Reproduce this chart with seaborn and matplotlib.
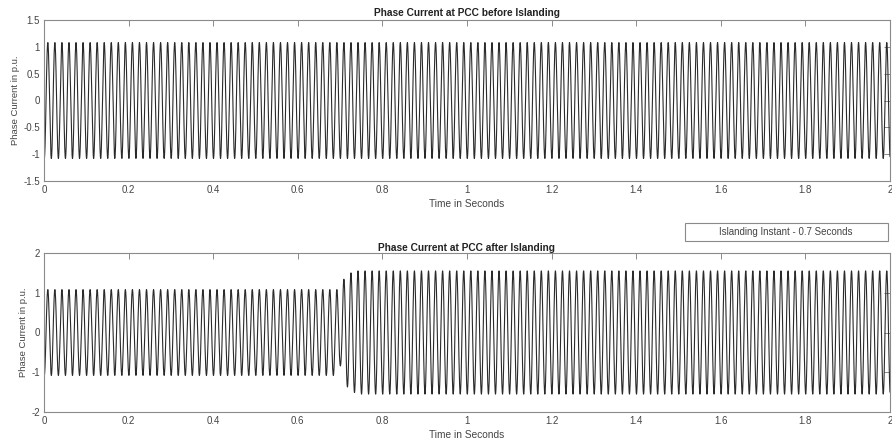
import numpy as np
import pandas as pd
import matplotlib
matplotlib.use("Agg")
import matplotlib.pyplot as plt
import matplotlib.patches as patches
import seaborn as sns

sns.set_style("white")
plt.rcParams['font.family'] = ['Liberation Sans', 'DejaVu Sans']

# signal values
freq_hz = 60.0
first_peak_s = 0.009
t_end = 2.0
amp_before = 1.08
amp_after = 1.55
islanding_s = 0.7
# magnitudes of the half-cycles right after islanding (peak, trough, peak, ...)
transition_peaks = [0.84, 1.34, 1.37, 1.50, 1.51]

x_ticks = [0, 0.2, 0.4, 0.6, 0.8, 1, 1.2, 1.4, 1.6, 1.8, 2]
x_labels = ["0", "0.2", "0.4", "0.6", "0.8", "1", "1.2", "1.4", "1.6", "1.8", "2"]
top_yticks = [-1.5, -1, -0.5, 0, 0.5, 1, 1.5]
top_ylabels = ["-1.5", "-1", "-0.5", "0", "0.5", "1", "1.5"]
bot_yticks = [-2, -1, 0, 1, 2]
bot_ylabels = ["-2", "-1", "0", "1", "2"]

t = np.linspace(0, t_end, 40001)
phase = 2 * np.pi * freq_hz * (t - first_peak_s) + np.pi / 2
carrier = np.sin(phase)

# half-cycle index (changes at zero crossings)
half = np.floor((t - first_peak_s + 1 / (4 * freq_hz)) * 2 * freq_hz).astype(int)
k0 = int(np.ceil((islanding_s - first_peak_s) * 2 * freq_hz))
mag = np.where(half < k0, amp_before, amp_after)
for i, v in enumerate(transition_peaks):
    mag = np.where(half == k0 + i, v, mag)

df_before = pd.DataFrame({"t": t, "i": amp_before * carrier})
df_after = pd.DataFrame({"t": t, "i": mag * carrier})

W, H = 892, 446
fig = plt.figure(figsize=(W / 100, H / 100), dpi=100)
ax1 = fig.add_axes([44 / W, 1 - 181 / H, 846 / W, 161 / H])
ax2 = fig.add_axes([44 / W, 1 - 412 / H, 846 / W, 159 / H])

line_kw = dict(x="t", y="i", color="#2a2a2a", linewidth=0.8, estimator=None)
sns.lineplot(data=df_before, ax=ax1, **line_kw)
sns.lineplot(data=df_after, ax=ax2, **line_kw)

spine_c = "#8a8a8a"
text_c = "#444444"
for ax, yt, yl in [
    (ax1, top_yticks, top_ylabels),
    (ax2, bot_yticks, bot_ylabels),
]:
    ax.set_xlim(0, 2)
    ax.set_ylim(yt[0], yt[-1])
    ax.set_xticks(x_ticks)
    ax.set_xticklabels(x_labels)
    ax.set_yticks(yt)
    ax.set_yticklabels(yl)
    ax.tick_params(direction="in", length=4, width=0.7, colors=spine_c,
                   labelcolor=text_c, labelsize=7, top=True, right=True, pad=3)
    for s in ax.spines.values():
        s.set_color(spine_c)
        s.set_linewidth(0.8)
    ax.set_xlabel("Time in Seconds", fontsize=7.3, color=text_c, labelpad=2.5)
    ax.set_ylabel("Phase Current in p.u.", fontsize=6.8, color=text_c, labelpad=2)

ax1.set_title("Phase Current at PCC before Islanding", fontsize=7.3, fontweight="bold",
              color="#222222", pad=3)
ax2.set_title("Phase Current at PCC after Islanding", fontsize=7.3, fontweight="bold",
              color="#222222", pad=1.5)

# annotation box above the lower plot
fig.patches.append(patches.Rectangle((685 / W, 1 - 241 / H), 203 / W, 18 / H,
                                     transform=fig.transFigure, fill=True,
                                     facecolor="white", edgecolor=spine_c, linewidth=0.8))
fig.text(786 / W, 1 - 232 / H, "Islanding Instant - 0.7 Seconds", ha="center",
         va="center", fontsize=7, color=text_c)

fig.savefig("out.png", dpi=100)
